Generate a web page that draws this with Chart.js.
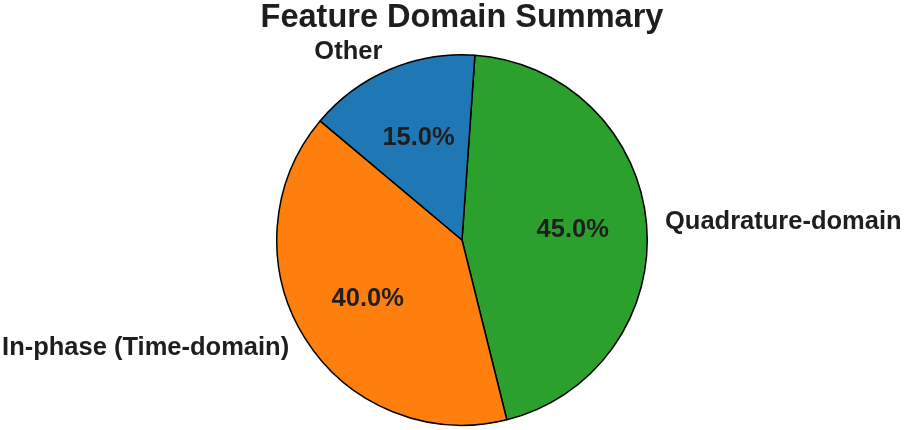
<!DOCTYPE html>
<html>
<head>
<meta charset="utf-8">
<script src="https://cdn.jsdelivr.net/npm/chart.js@4"></script>
<style>
  html, body { margin: 0; padding: 0; background: #ffffff; }
  #pie { display: block; }
</style>
</head>
<body>
<canvas id="pie" width="904" height="430"></canvas>
<script>
// 資料 (clockwise from top)
const labels = ['Quadrature-domain', 'In-phase (Time-domain)', 'Other'];
const shares = [45, 40, 15];
const colors = ['#2ca02c', '#ff7f0e', '#1f77b4'];
const titleText = 'Feature Domain Summary';

// labels + percent text like matplotlib (labeldistance 1.1, pctdistance 0.6)
const pieText = {
  id: 'pieText',
  afterDraw(chart) {
    const ctx = chart.ctx;
    const meta = chart.getDatasetMeta(0);
    const total = shares.reduce((a, b) => a + b, 0);
    ctx.save();
    ctx.fillStyle = '#1e1e1e';
    ctx.textBaseline = 'middle';
    meta.data.forEach((arc, i) => {
      const p = arc.getProps(['x', 'y', 'startAngle', 'endAngle', 'outerRadius'], true);
      const mid = (p.startAngle + p.endAngle) / 2;
      const cx = Math.cos(mid), cy = Math.sin(mid);
      // outside label
      const lx = p.x + cx * p.outerRadius * 1.1;
      const ly = p.y + cy * p.outerRadius * 1.1;
      ctx.font = 'bold 25.5px "Liberation Sans", Arial, sans-serif';
      ctx.textAlign = cx >= 0 ? 'left' : 'right';
      ctx.fillText(labels[i], lx, ly);
      // percent inside
      const px = p.x + cx * p.outerRadius * 0.6;
      const py = p.y + cy * p.outerRadius * 0.6;
      ctx.textAlign = 'center';
      ctx.fillText((shares[i] / total * 100).toFixed(1) + '%', px, py);
    });
    // 標題
    ctx.font = 'bold 32.5px "Liberation Sans", Arial, sans-serif';
    ctx.textAlign = 'center';
    ctx.textBaseline = 'alphabetic';
    ctx.fillText(titleText, 462, 27);
    ctx.restore();
  }
};

new Chart(document.getElementById('pie'), {
  type: 'pie',
  data: {
    labels: labels,
    datasets: [{
      data: shares,
      backgroundColor: colors,
      borderColor: '#000000',
      borderWidth: 1.5
    }]
  },
  options: {
    responsive: false,
    animation: false,
    rotation: 4,
    layout: { padding: { top: 54, bottom: 4, left: 276, right: 256 } },
    plugins: {
      legend: { display: false },
      tooltip: { enabled: false },
      title: { display: false }
    }
  },
  plugins: [pieText]
});
</script>
</body>
</html>
